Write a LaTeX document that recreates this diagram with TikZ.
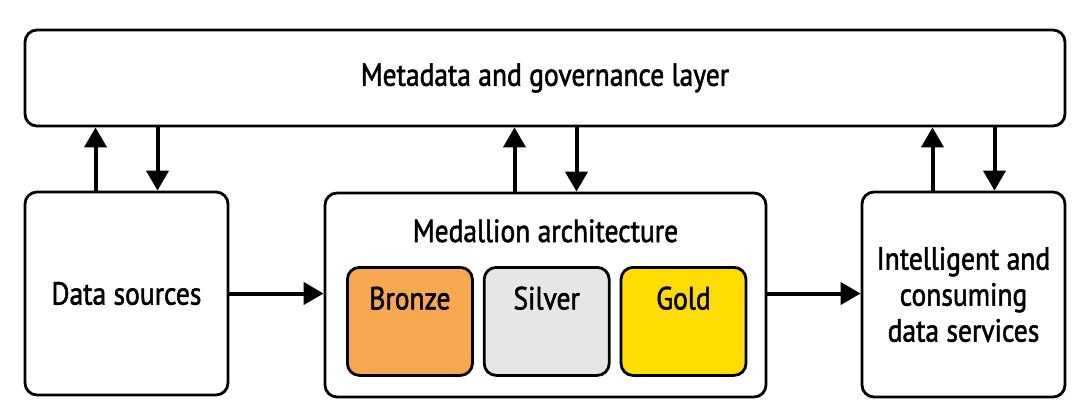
\documentclass[tikz,border=0pt]{standalone}
\usepackage{fontspec}
\setmainfont[FakeStretch=0.86,FakeBold=1.6]{PT Sans}
\usetikzlibrary{arrows.meta,positioning}
\definecolor{bronzefill}{HTML}{F5A84E}
\definecolor{silverfill}{HTML}{E6E6E6}
\definecolor{goldfill}{HTML}{FFDD00}
\tikzset{
  box/.style={draw,line width=2.8pt,rounded corners=12pt,inner sep=0pt,align=center},
  tier/.style={box,minimum width=125pt,text height=42pt,text depth=66pt},
  arr/.style={line width=4pt,-{Triangle[width=22pt,length=20pt]}}
}
\begin{document}
\begin{tikzpicture}[x=1pt,y=-1pt,font=\fontsize{32}{36}\selectfont]
	\useasboundingbox[fill=white] (0,0) rectangle (1085,407);
	\node[box,minimum width=1040pt,minimum height=96pt] (meta) at (545,78) {Metadata and governance layer};
	\node[box,minimum width=203pt,minimum height=203pt] (src) at (126.5,293.5) {Data sources};
	\node[box,minimum width=441pt,text height=49pt,text depth=155pt] (med) at (545.5,295) {Medallion architecture};
	\node[box,minimum width=203pt,minimum height=205pt] (svc) at (963.5,294.5) {Intelligent and\\consuming\\data services};
	% the three layers
	\node[tier,fill=bronzefill,anchor=north west] (bronze) at (346,266) {Bronze};
	\node[tier,fill=silverfill,right=9pt of bronze] (silver) {Silver};
	\node[tier,fill=goldfill,right=9pt of silver] (gold) {Gold};
	% links to the governance layer
	\foreach \n in {src,med,svc}{
			\draw[arr] ([xshift=-31pt]\n.north) -- ([xshift=-31pt]\n.north |- meta.south);
			\draw[arr] ([xshift=31pt]\n.north |- meta.south) -- ([xshift=31pt]\n.north);
		}
	\draw[arr] (src.east) -- (src.east -| med.west);
	\draw[arr] (src.east -| med.east) -- (src.east -| svc.west);
\end{tikzpicture}
\end{document}
